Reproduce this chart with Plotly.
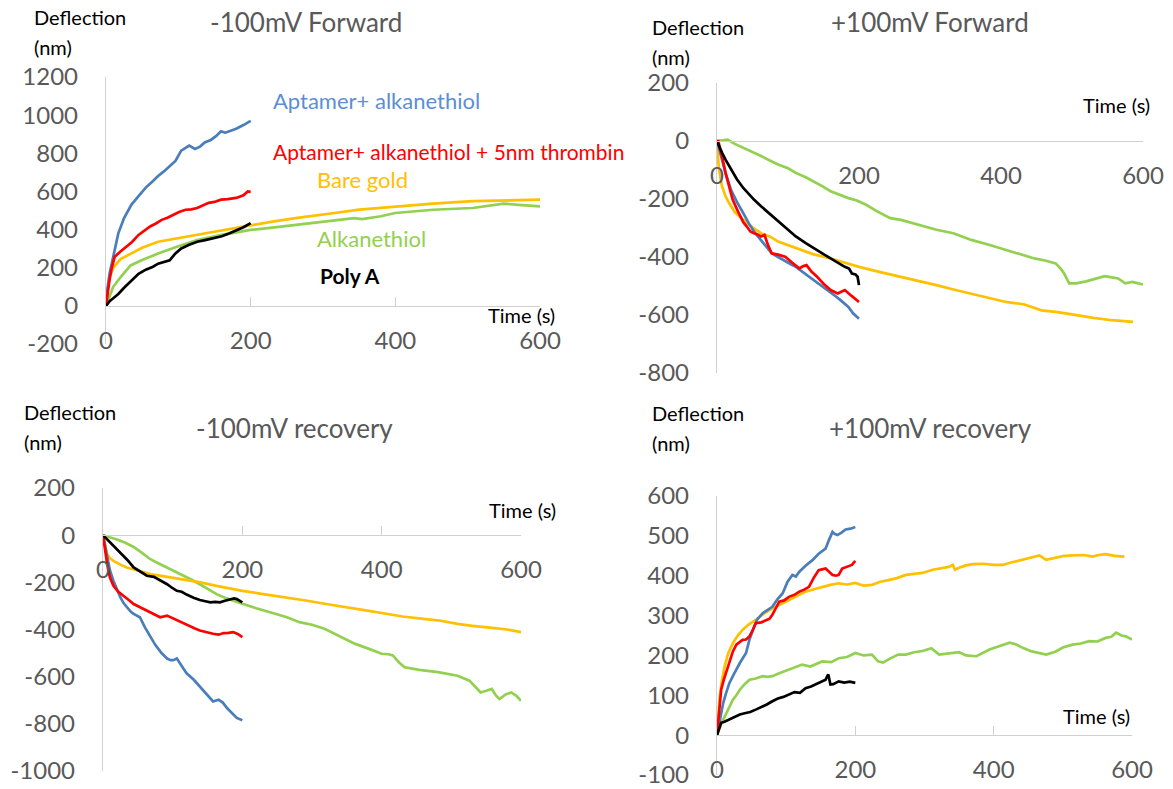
import plotly.graph_objects as go

# ---------------- data ----------------
# Panel 1: -100mV Forward
p1_blue_t = [0, 2, 5, 10, 17, 25, 35, 45, 55, 65, 72, 80, 88, 96, 104, 110, 115, 123, 130, 137, 145, 152, 159, 165, 170, 180, 190, 200]
p1_blue_v = [0, 90, 170, 260, 380, 460, 530, 575, 620, 655, 681, 705, 734, 760, 814, 828, 840, 823, 835, 858, 870, 890, 915, 908, 915, 929, 948, 970]
p1_red_t = [0, 2, 5, 8, 12, 20, 28, 36, 45, 53, 61, 69, 77, 85, 93, 101, 110, 118, 126, 134, 142, 150, 159, 168, 180, 190, 196, 200]
p1_red_v = [0, 70, 140, 200, 257, 285, 310, 335, 372, 395, 416, 432, 451, 462, 478, 492, 504, 506, 513, 528, 540, 545, 557, 560, 566, 580, 600, 598]
p1_yel_t = [0, 2, 5, 10, 20, 34, 50, 72, 100, 126, 160, 200, 230, 262, 290, 316, 350, 400, 452, 507, 550, 600]
p1_yel_v = [0, 80, 150, 200, 245, 274, 305, 336, 355, 372, 395, 425, 442, 460, 472, 487, 505, 522, 536, 549, 552, 557]
p1_grn_t = [0, 3, 10, 20, 34, 50, 72, 100, 126, 160, 200, 230, 262, 300, 343, 354, 380, 400, 452, 507, 550, 575, 600]
p1_grn_v = [0, 30, 100, 150, 212, 240, 274, 312, 345, 372, 398, 410, 425, 442, 460, 455, 470, 487, 504, 513, 536, 528, 522]
p1_blk_t = [0, 5, 10, 17, 25, 35, 45, 55, 65, 72, 80, 88, 96, 104, 115, 126, 137, 148, 160, 170, 180, 190, 200]
p1_blk_v = [0, 25, 40, 62, 95, 130, 168, 190, 205, 221, 228, 239, 275, 301, 320, 336, 345, 354, 365, 380, 395, 412, 434]

# Panel 2: +100mV Forward
p2_grn_t = [0, 8, 15, 25, 37, 50, 62, 75, 86, 100, 111, 125, 136, 150, 160, 172, 185, 197, 210, 225, 244, 259, 284, 309, 333, 358, 383, 407, 432, 447, 462, 477, 484, 489, 496, 506, 520, 531, 546, 556, 565, 575, 585, 592, 600]
p2_grn_v = [0, 2, 5, -10, -23, -38, -52, -68, -81, -94, -110, -125, -139, -158, -173, -185, -197, -205, -220, -242, -266, -272, -289, -306, -318, -341, -358, -376, -393, -405, -412, -422, -440, -457, -491, -491, -484, -477, -466, -470, -474, -491, -486, -490, -495]
p2_yel_t = [0, 3, 7, 12, 17, 25, 37, 50, 62, 75, 86, 100, 111, 135, 160, 180, 200, 230, 259, 284, 309, 333, 358, 383, 407, 432, 457, 480, 506, 530, 556, 570, 586]
p2_yel_v = [-23, -100, -156, -190, -214, -245, -272, -298, -318, -330, -347, -360, -370, -390, -405, -420, -434, -452, -468, -483, -497, -512, -526, -540, -555, -563, -584, -590, -601, -610, -618, -620, -624]
p2_blu_t = [0, 3, 7, 12, 20, 28, 37, 45, 53, 62, 70, 77, 86, 96, 104, 111, 120, 128, 136, 145, 152, 160, 168, 176, 185, 192, 200]
p2_blu_v = [0, -30, -70, -110, -170, -210, -249, -285, -315, -341, -365, -387, -400, -415, -425, -434, -450, -465, -480, -494, -507, -520, -537, -553, -572, -595, -613]
p2_red_t = [0, 2, 4, 7, 12, 17, 22, 30, 37, 42, 47, 52, 57, 62, 67, 72, 77, 86, 96, 106, 116, 121, 126, 133, 141, 150, 160, 170, 175, 180, 190, 200]
p2_red_v = [0, 0, -25, -52, -110, -160, -202, -245, -280, -295, -312, -318, -322, -329, -324, -360, -387, -392, -399, -420, -439, -432, -428, -450, -468, -492, -514, -526, -520, -514, -535, -555]
p2_blk_t = [0, 3, 7, 12, 20, 28, 37, 45, 52, 62, 75, 86, 100, 111, 125, 136, 150, 160, 170, 180, 186, 190, 195, 198, 200]
p2_blk_v = [0, -20, -40, -64, -100, -132, -162, -185, -202, -225, -252, -277, -305, -329, -352, -370, -390, -405, -420, -434, -440, -457, -460, -468, -497]

# Panel 3: -100mV recovery
p3_blu_t = [0, 3, 6, 10, 15, 20, 25, 30, 34, 40, 44, 50, 53, 60, 68, 75, 84, 92, 97, 101, 106, 113, 120, 130, 139, 148, 158, 166, 172, 178, 185, 192, 200]
p3_blu_v = [0, -50, -95, -150, -194, -232, -264, -290, -306, -325, -334, -342, -348, -390, -432, -465, -500, -523, -530, -530, -523, -555, -586, -612, -642, -672, -705, -698, -710, -733, -755, -775, -785]
p3_red_t = [0, 2, 4, 6, 10, 15, 22, 30, 37, 44, 53, 63, 72, 82, 92, 100, 108, 116, 125, 132, 139, 148, 158, 166, 173, 180, 187, 194, 200]
p3_red_v = [0, -40, -85, -123, -180, -215, -240, -257, -275, -292, -305, -320, -336, -348, -341, -352, -365, -376, -385, -396, -404, -412, -418, -422, -415, -414, -411, -420, -432]
p3_blk_t = [0, 5, 10, 17, 25, 35, 44, 53, 63, 73, 82, 92, 100, 106, 113, 120, 130, 139, 147, 154, 161, 168, 175, 182, 188, 192, 196, 200]
p3_blk_v = [0, -15, -32, -50, -74, -105, -137, -155, -172, -177, -190, -208, -225, -236, -240, -252, -265, -275, -280, -285, -283, -285, -278, -271, -268, -271, -278, -285]
p3_yel_t = [0, 3, 6, 10, 15, 25, 34, 50, 68, 90, 116, 140, 163, 180, 200, 230, 260, 291, 320, 350, 375, 400, 430, 460, 485, 509, 530, 555, 580, 600]
p3_yel_v = [0, -45, -81, -98, -109, -125, -137, -150, -165, -176, -187, -200, -215, -225, -236, -250, -262, -277, -292, -305, -318, -330, -345, -355, -363, -376, -385, -392, -400, -411]
p3_grn_t = [0, 10, 20, 32, 44, 56, 68, 80, 92, 104, 116, 128, 139, 151, 163, 175, 187, 200, 220, 240, 263, 282, 300, 318, 340, 362, 380, 400, 410, 416, 425, 433, 454, 481, 509, 526, 535, 542, 550, 558, 564, 569, 578, 586, 593, 600]
p3_grn_v = [0, -8, -18, -32, -50, -75, -102, -120, -137, -155, -172, -190, -208, -228, -250, -265, -278, -291, -310, -328, -347, -369, -380, -397, -430, -461, -480, -503, -505, -510, -540, -560, -571, -581, -596, -617, -645, -667, -660, -652, -680, -695, -675, -667, -680, -702]

# Panel 4: +100mV recovery
p4_blu_t = [0, 3, 6, 9, 13, 18, 25, 33, 42, 47, 52, 58, 66, 72, 80, 87, 95, 102, 109, 114, 119, 128, 138, 147, 157, 162, 167, 170, 174, 180, 186, 193, 200]
p4_blu_v = [0, 30, 55, 81, 105, 131, 155, 181, 206, 240, 264, 290, 306, 312, 322, 340, 356, 385, 402, 398, 410, 425, 439, 455, 468, 490, 510, 505, 502, 508, 516, 518, 522]
p4_red_t = [0, 2, 4, 6, 10, 13, 18, 23, 28, 33, 37, 42, 47, 52, 56, 64, 71, 76, 80, 85, 90, 97, 104, 112, 119, 126, 133, 140, 147, 152, 157, 162, 167, 172, 176, 181, 188, 195, 200]
p4_red_v = [0, 45, 85, 114, 140, 156, 185, 210, 227, 235, 239, 240, 248, 265, 281, 283, 289, 292, 302, 320, 335, 338, 347, 352, 360, 365, 372, 395, 414, 416, 418, 410, 402, 400, 402, 418, 422, 427, 437]
p4_yel_t = [0, 2, 4, 7, 11, 16, 23, 30, 37, 46, 56, 68, 80, 92, 104, 116, 128, 140, 152, 164, 176, 188, 200, 212, 224, 236, 248, 260, 273, 285, 297, 312, 325, 335, 341, 344, 350, 360, 370, 385, 400, 413, 425, 442, 455, 466, 476, 490, 500, 514, 530, 543, 552, 562, 575, 589]
p4_yel_v = [0, 55, 97, 135, 172, 205, 231, 250, 264, 278, 289, 305, 318, 328, 339, 350, 360, 366, 372, 377, 381, 378, 382, 375, 377, 385, 389, 394, 402, 404, 407, 415, 420, 422, 427, 415, 420, 426, 429, 430, 427, 427, 433, 440, 446, 451, 440, 446, 449, 451, 452, 448, 452, 454, 450, 448]
p4_grn_t = [0, 3, 6, 9, 15, 23, 28, 33, 40, 47, 56, 66, 73, 80, 90, 104, 114, 123, 135, 152, 165, 176, 188, 200, 212, 224, 233, 240, 250, 262, 273, 285, 297, 310, 321, 335, 350, 360, 375, 394, 410, 423, 432, 442, 455, 466, 476, 490, 500, 514, 526, 538, 550, 562, 570, 577, 585, 591, 600]
p4_grn_v = [0, 15, 28, 39, 62, 89, 100, 114, 128, 139, 142, 148, 146, 148, 155, 164, 170, 177, 172, 185, 183, 193, 196, 206, 200, 202, 185, 182, 192, 202, 202, 208, 211, 218, 202, 205, 208, 200, 198, 215, 224, 232, 228, 219, 210, 205, 202, 210, 220, 227, 230, 236, 235, 244, 247, 257, 250, 248, 240]
p4_blk_t = [0, 2, 4, 6, 10, 18, 26, 33, 40, 48, 56, 64, 72, 80, 88, 96, 104, 112, 120, 128, 136, 143, 147, 152, 157, 160, 161, 163, 164, 168, 176, 184, 192, 200]
p4_blk_v = [0, 12, 22, 31, 33, 39, 45, 52, 55, 58, 64, 70, 77, 85, 92, 96, 102, 108, 106, 118, 122, 128, 131, 135, 139, 150, 152, 135, 127, 128, 135, 132, 134, 131]

x_tick_vals = [0, 200, 400, 600]
p1_y_ticks = [-200, 0, 200, 400, 600, 800, 1000, 1200]
p2_y_ticks = [-800, -600, -400, -200, 0, 200]
p3_y_ticks = [-1000, -800, -600, -400, -200, 0, 200]
p4_y_ticks = [-100, 0, 100, 200, 300, 400, 500, 600]

titles = ["-100mV Forward", "+100mV Forward", "-100mV recovery", "+100mV recovery"]
series_names = ["Aptamer+ alkanethiol", "Aptamer+ alkanethiol + 5nm thrombin", "Bare gold", "Alkanethiol", "Poly A"]

# ---------------- styling / layout ----------------
W, H = 1173, 789
FONT = "Lato"
BLUE, RED, YEL, GRN, BLK = "#4A7EBB", "#FF0000", "#FFC000", "#92D050", "#000000"
AXC = "#D0D0D0"
TICKC = "#595959"

def fx(px):
    return px / W

def fy(py):
    return 1 - py / H

# pixel boxes: (left, right, top, bottom), y-range, whether x ticks show
panels = [
    dict(box=(106, 540, 77, 344), yr=[-200, 1200], yt=p1_y_ticks, xt="inside"),
    dict(box=(717, 1143, 83, 373), yr=[-800, 200], yt=p2_y_ticks, xt=""),
    dict(box=(103, 521, 488, 771), yr=[-1000, 200], yt=p3_y_ticks, xt="inside"),
    dict(box=(717, 1132, 496, 775), yr=[-100, 600], yt=p4_y_ticks, xt="inside"),
]

fig = go.Figure()

data = [
    [(p1_grn_t, p1_grn_v, GRN), (p1_yel_t, p1_yel_v, YEL), (p1_blue_t, p1_blue_v, BLUE), (p1_red_t, p1_red_v, RED), (p1_blk_t, p1_blk_v, BLK)],
    [(p2_grn_t, p2_grn_v, GRN), (p2_yel_t, p2_yel_v, YEL), (p2_blu_t, p2_blu_v, BLUE), (p2_red_t, p2_red_v, RED), (p2_blk_t, p2_blk_v, BLK)],
    [(p3_grn_t, p3_grn_v, GRN), (p3_yel_t, p3_yel_v, YEL), (p3_blu_t, p3_blu_v, BLUE), (p3_red_t, p3_red_v, RED), (p3_blk_t, p3_blk_v, BLK)],
    [(p4_grn_t, p4_grn_v, GRN), (p4_yel_t, p4_yel_v, YEL), (p4_blu_t, p4_blu_v, BLUE), (p4_red_t, p4_red_v, RED), (p4_blk_t, p4_blk_v, BLK)],
]

layout = dict(
    width=W, height=H, margin=dict(l=0, r=0, t=0, b=0, autoexpand=False),
    paper_bgcolor="white", plot_bgcolor="white", showlegend=False,
    font=dict(family=FONT, color=TICKC),
)

for i, (p, series) in enumerate(zip(panels, data)):
    n = "" if i == 0 else str(i + 1)
    l, r, t, b = p["box"]
    ymin, ymax = p["yr"]
    ydom = [fy(b), fy(t)]
    zero_pos = ydom[0] + (0 - ymin) / (ymax - ymin) * (ydom[1] - ydom[0])
    for (tt, vv, col) in series:
        fig.add_trace(go.Scatter(x=tt, y=vv, mode="lines", line=dict(color=col, width=2.7),
                                 xaxis="x" + n, yaxis="y" + n, hoverinfo="skip"))
    layout["xaxis" + n] = dict(
        domain=[fx(l), fx(r)], range=[0, 600], anchor="free", position=zero_pos, automargin=False,
        showline=True, linecolor=AXC, linewidth=1.3, ticks=p["xt"], ticklen=9,
        tickcolor=AXC, tickwidth=1.3, tickvals=x_tick_vals, ticktext=[str(v) for v in x_tick_vals],
        showgrid=False, zeroline=False,
        tickfont=dict(family=FONT, size=24, color=TICKC), ticklabelstandoff=13,
    )
    layout["yaxis" + n] = dict(
        domain=ydom, range=p["yr"], anchor="x" + n, automargin=False, showline=True, linecolor=AXC,
        linewidth=1.3, ticks="", tickvals=p["yt"], ticktext=[str(v) for v in p["yt"]],
        showgrid=False, zeroline=False,
        tickfont=dict(family=FONT, size=24, color=TICKC), ticklabelstandoff=22,
    )

fig.update_layout(**layout)

ann = []
def text(x, y, s, size, color, xanchor="center", bold=False):
    ann.append(dict(x=fx(x), y=fy(y), xref="paper", yref="paper", text=("<b>%s</b>" % s) if bold else s,
                    showarrow=False, xanchor=xanchor, yanchor="middle",
                    font=dict(family=FONT, size=size, color=color)))

# panel titles
title_pos = [(306, 22), (930, 22), (294, 428), (930, 428)]
for (x, y), s in zip(title_pos, titles):
    text(x, y, s, 26, TICKC)

# y-axis titles
for (x, y) in [(32, 17), (650, 27), (22, 412), (650, 413)]:
    text(x, y, "Deflection", 20, "#000000", xanchor="left")
    text(x, y + 30, "(nm)", 20, "#000000", xanchor="left")

# x-axis titles
for (x, y) in [(521, 315), (1116, 105), (522, 510), (1096, 716)]:
    text(x, y, "Time (s)", 20, "#000000")

# series labels in panel 1
text(271, 101, series_names[0], 22, "#5B8ED6", xanchor="left")
text(271, 151, series_names[1], 21, RED, xanchor="left")
text(315, 180, series_names[2], 22, YEL, xanchor="left")
text(315, 238, series_names[3], 22, GRN, xanchor="left")
text(318, 275, series_names[4], 21, BLK, xanchor="left", bold=True)

fig.update_layout(annotations=ann)
fig.write_html("out.html")
